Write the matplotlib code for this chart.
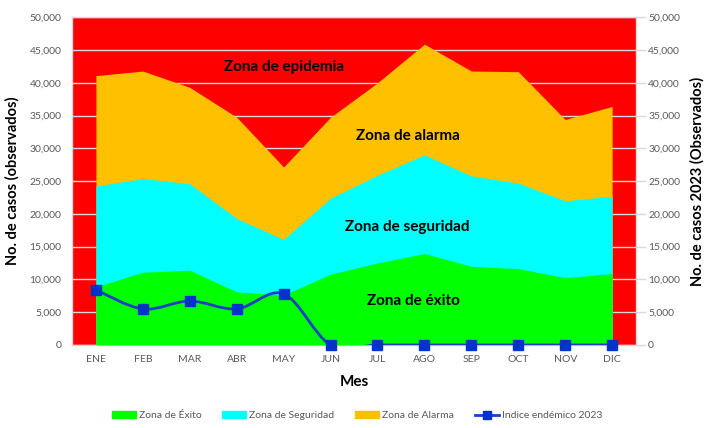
import matplotlib
matplotlib.use("Agg")
import matplotlib.pyplot as plt
from matplotlib.path import Path
from matplotlib.patches import PathPatch, Patch
from matplotlib.lines import Line2D
from matplotlib.ticker import FuncFormatter, MultipleLocator
import numpy as np

plt.rcParams['font.family'] = ['Lato', 'DejaVu Sans']

meses = ["ENE", "FEB", "MAR", "ABR", "MAY", "JUN", "JUL", "AGO", "SEP", "OCT", "NOV", "DIC"]
zona_exito = [8870, 11100, 11400, 8100, 7600, 10800, 12500, 13950, 12000, 11650, 10250, 10900]
zona_seguridad = [24250, 25400, 24600, 19300, 16100, 22400, 25900, 29000, 25800, 24700, 22000, 22700]
zona_alarma = [41100, 41800, 39300, 34750, 27150, 34750, 40000, 45900, 41800, 41700, 34400, 36400]
indice_2023 = [8400, 5500, 6700, 5500, 7800, 0, 0, 0, 0, 0, 0, 0]

C_RED = "#FF0000"
C_ORANGE = "#FFC000"
C_CYAN = "#00FFFF"
C_GREEN = "#00FF00"
C_BLUE = "#1F3FC4"
C_MARK = "#0033CC"
GRAY_TXT = "#595959"
GRID = "#D9D9D9"

fig = plt.figure(figsize=(7.07, 4.28), dpi=100)
ax = fig.add_axes([0.1025, 0.194, 0.7965, 0.7656])
x = np.arange(len(meses))

ax.set_facecolor(C_RED)
ax.set_axisbelow(True)
ax.grid(axis='y', color=GRID, linewidth=1.0)
ax.fill_between(x, 0, zona_alarma, color=C_ORANGE, lw=0, zorder=1)
ax.fill_between(x, 0, zona_seguridad, color=C_CYAN, lw=0, zorder=2)
ax.fill_between(x, 0, zona_exito, color=C_GREEN, lw=0, zorder=3)

# smoothed line (Bezier, Excel-like)
pts = np.column_stack([x, np.array(indice_2023, dtype=float)])
verts = [tuple(pts[0])]
codes = [Path.MOVETO]
n = len(pts)
for i in range(n - 1):
    p0 = pts[max(i - 1, 0)]
    p1 = pts[i]
    p2 = pts[i + 1]
    p3 = pts[min(i + 2, n - 1)]
    c1 = p1 + (p2 - p0) / 6.0
    c2 = p2 - (p3 - p1) / 6.0
    verts += [tuple(c1), tuple(c2), tuple(p2)]
    codes += [Path.CURVE4] * 3
ax.add_patch(PathPatch(Path(verts, codes), facecolor='none', edgecolor=C_BLUE, lw=2.0, zorder=5))
ax.plot(x, indice_2023, ls='none', marker='s', ms=6.5, color=C_MARK, mec=C_MARK, zorder=6, clip_on=False)

ax.set_xlim(-0.5, 11.5)
ax.set_ylim(0, 50000)
ax.yaxis.set_major_locator(MultipleLocator(5000))
fmt = FuncFormatter(lambda v, p: f"{int(v):,}")
ax.yaxis.set_major_formatter(fmt)
ax.set_xticks(x)
ax.set_xticklabels(meses)
ax.tick_params(axis='x', length=0, pad=7, labelsize=7.5, labelcolor=GRAY_TXT)
ax.tick_params(axis='y', length=0, pad=8, labelsize=7.5, labelcolor=GRAY_TXT)
for s in ax.spines.values():
    s.set_color(GRID)
    s.set_linewidth(1.0)

ax2 = ax.twinx()
ax2.set_ylim(0, 50000)
ax2.yaxis.set_major_locator(MultipleLocator(5000))
ax2.yaxis.set_major_formatter(fmt)
ax2.tick_params(axis='y', length=7, width=1, color=GRID, pad=2, labelsize=7.5, labelcolor=GRAY_TXT)
for s in ax2.spines.values():
    s.set_visible(False)

ax.set_ylabel("No. de casos (observados)", fontsize=10.5, fontweight='bold', color='black', labelpad=7)
ax.set_xlabel("Mes", fontsize=11, fontweight='bold', color='black', labelpad=8)
ax2.set_ylabel("No. de casos 2023 (Observados)", fontsize=10.5, fontweight='bold', color='black', labelpad=7)

tkw = dict(fontsize=11, fontweight='bold', color='black', ha='center', va='center', zorder=7)
ax.text(4.0, 42360, "Zona de epidemia", **tkw)
ax.text(6.65, 31960, "Zona de alarma", **tkw)
ax.text(6.63, 18000, "Zona de seguridad", **tkw)
ax.text(6.76, 6750, "Zona de éxito", **tkw)

handles = [Patch(color=C_GREEN), Patch(color=C_CYAN), Patch(color=C_ORANGE),
           Line2D([], [], color=C_BLUE, lw=2, marker='s', ms=6, mfc=C_MARK, mec=C_MARK)]
labels = ["Zona de Éxito", "Zona de Seguridad", "Zona de Alarma", "Indice endémico 2023"]
leg = fig.legend(handles, labels, loc='center', bbox_to_anchor=(0.505, 0.029), ncol=4, frameon=False,
                 fontsize=7.5, handlelength=2.3, handleheight=0.6, handletextpad=0.3, columnspacing=2.0)
for t in leg.get_texts():
    t.set_color(GRAY_TXT)

fig.savefig("out.png", dpi=100)
